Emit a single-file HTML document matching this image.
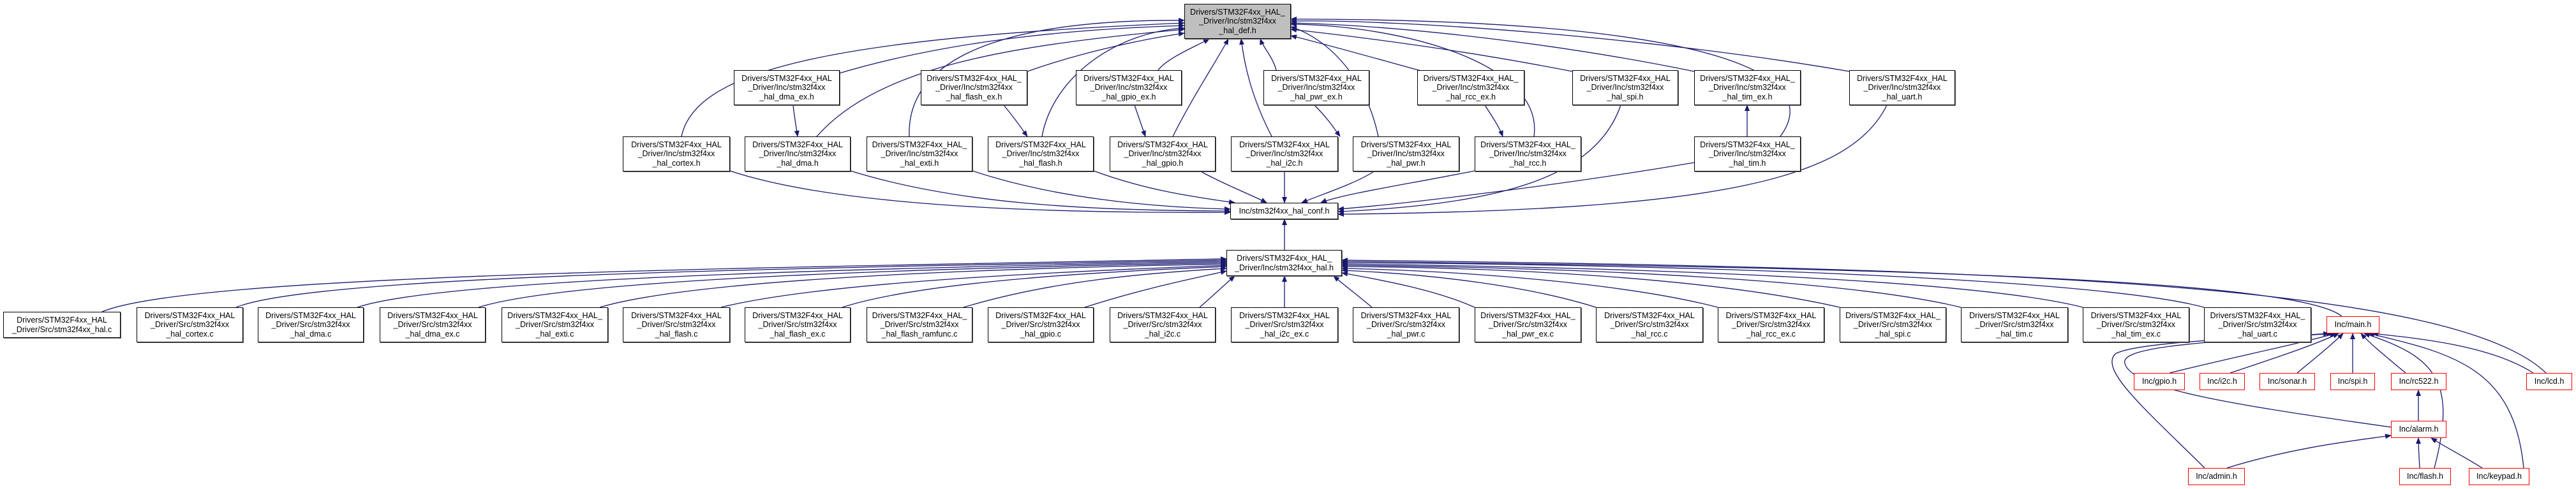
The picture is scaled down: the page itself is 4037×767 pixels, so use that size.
<!DOCTYPE html>
<html><head><meta charset="utf-8"><style>
body{margin:0;width:4037px;height:767px;background:#fff;position:relative;overflow:hidden;font-family:"Liberation Sans",sans-serif}
.n{position:absolute;box-sizing:border-box;border:1px solid #000;box-shadow:1px 1px 0 #666;background:#fff;font-size:12.5px;line-height:14.5px;text-align:center;display:flex;flex-direction:column;justify-content:center;white-space:nowrap;color:#000}
.r{border-color:#f00;box-shadow:none}
.g{background:#bfbfbf}
svg{position:absolute;left:0;top:0}
</style></head><body>
<svg id="s" width="4037" height="767"><defs><marker id="a" markerWidth="10" markerHeight="10" refX="9" refY="5" orient="auto" markerUnits="userSpaceOnUse"><path d="M0,1 L10,5 L0,9 z" fill="#191970"/></marker></defs></svg>

<div class="n g" style="left:1856px;top:6px;width:167px;height:55px">Drivers/STM32F4xx_HAL_<br>_Driver/Inc/stm32f4xx<br>_hal_def.h</div>

<div class="n" style="left:1150px;top:110px;width:166px;height:55px">Drivers/STM32F4xx_HAL<br>_Driver/Inc/stm32f4xx<br>_hal_dma_ex.h</div>
<div class="n" style="left:1443px;top:110px;width:167px;height:55px">Drivers/STM32F4xx_HAL_<br>_Driver/Inc/stm32f4xx<br>_hal_flash_ex.h</div>
<div class="n" style="left:1686px;top:110px;width:166px;height:55px">Drivers/STM32F4xx_HAL<br>_Driver/Inc/stm32f4xx<br>_hal_gpio_ex.h</div>
<div class="n" style="left:1980px;top:110px;width:166px;height:55px">Drivers/STM32F4xx_HAL<br>_Driver/Inc/stm32f4xx<br>_hal_pwr_ex.h</div>
<div class="n" style="left:2221px;top:110px;width:168px;height:55px">Drivers/STM32F4xx_HAL_<br>_Driver/Inc/stm32f4xx<br>_hal_rcc_ex.h</div>
<div class="n" style="left:2464px;top:110px;width:166px;height:55px">Drivers/STM32F4xx_HAL<br>_Driver/Inc/stm32f4xx<br>_hal_spi.h</div>
<div class="n" style="left:2655px;top:110px;width:167px;height:55px">Drivers/STM32F4xx_HAL_<br>_Driver/Inc/stm32f4xx<br>_hal_tim_ex.h</div>
<div class="n" style="left:2898px;top:110px;width:166px;height:55px">Drivers/STM32F4xx_HAL<br>_Driver/Inc/stm32f4xx<br>_hal_uart.h</div>

<div class="n" style="left:976px;top:214px;width:168px;height:55px">Drivers/STM32F4xx_HAL<br>_Driver/Inc/stm32f4xx<br>_hal_cortex.h</div>
<div class="n" style="left:1167px;top:214px;width:166px;height:55px">Drivers/STM32F4xx_HAL<br>_Driver/Inc/stm32f4xx<br>_hal_dma.h</div>
<div class="n" style="left:1358px;top:214px;width:166px;height:55px">Drivers/STM32F4xx_HAL_<br>_Driver/Inc/stm32f4xx<br>_hal_exti.h</div>
<div class="n" style="left:1548px;top:214px;width:166px;height:55px">Drivers/STM32F4xx_HAL<br>_Driver/Inc/stm32f4xx<br>_hal_flash.h</div>
<div class="n" style="left:1739px;top:214px;width:166px;height:55px">Drivers/STM32F4xx_HAL<br>_Driver/Inc/stm32f4xx<br>_hal_gpio.h</div>
<div class="n" style="left:1929px;top:214px;width:168px;height:55px">Drivers/STM32F4xx_HAL<br>_Driver/Inc/stm32f4xx<br>_hal_i2c.h</div>
<div class="n" style="left:2120px;top:214px;width:167px;height:55px">Drivers/STM32F4xx_HAL<br>_Driver/Inc/stm32f4xx<br>_hal_pwr.h</div>
<div class="n" style="left:2311px;top:214px;width:167px;height:55px">Drivers/STM32F4xx_HAL_<br>_Driver/Inc/stm32f4xx<br>_hal_rcc.h</div>
<div class="n" style="left:2655px;top:214px;width:167px;height:55px">Drivers/STM32F4xx_HAL_<br>_Driver/Inc/stm32f4xx<br>_hal_tim.h</div>

<div class="n" style="left:1928px;top:318px;width:169px;height:26px">Inc/stm32f4xx_hal_conf.h</div>
<div class="n" style="left:1922px;top:392px;width:181px;height:41px">Drivers/STM32F4xx_HAL_<br>_Driver/Inc/stm32f4xx_hal.h</div>

<div class="n" style="left:5px;top:489px;width:184px;height:41px">Drivers/STM32F4xx_HAL<br>_Driver/Src/stm32f4xx_hal.c</div>
<div class="n" style="left:214px;top:482px;width:167px;height:55px">Drivers/STM32F4xx_HAL<br>_Driver/Src/stm32f4xx<br>_hal_cortex.c</div>
<div class="n" style="left:404px;top:482px;width:166px;height:55px">Drivers/STM32F4xx_HAL<br>_Driver/Src/stm32f4xx<br>_hal_dma.c</div>
<div class="n" style="left:595px;top:482px;width:166px;height:55px">Drivers/STM32F4xx_HAL<br>_Driver/Src/stm32f4xx<br>_hal_dma_ex.c</div>
<div class="n" style="left:786px;top:482px;width:167px;height:55px">Drivers/STM32F4xx_HAL_<br>_Driver/Src/stm32f4xx<br>_hal_exti.c</div>
<div class="n" style="left:976px;top:482px;width:168px;height:55px">Drivers/STM32F4xx_HAL<br>_Driver/Src/stm32f4xx<br>_hal_flash.c</div>
<div class="n" style="left:1167px;top:482px;width:166px;height:55px">Drivers/STM32F4xx_HAL<br>_Driver/Src/stm32f4xx<br>_hal_flash_ex.c</div>
<div class="n" style="left:1358px;top:482px;width:166px;height:55px">Drivers/STM32F4xx_HAL_<br>_Driver/Src/stm32f4xx<br>_hal_flash_ramfunc.c</div>
<div class="n" style="left:1548px;top:482px;width:166px;height:55px">Drivers/STM32F4xx_HAL<br>_Driver/Src/stm32f4xx<br>_hal_gpio.c</div>
<div class="n" style="left:1739px;top:482px;width:166px;height:55px">Drivers/STM32F4xx_HAL<br>_Driver/Src/stm32f4xx<br>_hal_i2c.c</div>
<div class="n" style="left:1929px;top:482px;width:168px;height:55px">Drivers/STM32F4xx_HAL<br>_Driver/Src/stm32f4xx<br>_hal_i2c_ex.c</div>
<div class="n" style="left:2120px;top:482px;width:167px;height:55px">Drivers/STM32F4xx_HAL<br>_Driver/Src/stm32f4xx<br>_hal_pwr.c</div>
<div class="n" style="left:2311px;top:482px;width:167px;height:55px">Drivers/STM32F4xx_HAL_<br>_Driver/Src/stm32f4xx<br>_hal_pwr_ex.c</div>
<div class="n" style="left:2501px;top:482px;width:168px;height:55px">Drivers/STM32F4xx_HAL<br>_Driver/Src/stm32f4xx<br>_hal_rcc.c</div>
<div class="n" style="left:2692px;top:482px;width:167px;height:55px">Drivers/STM32F4xx_HAL<br>_Driver/Src/stm32f4xx<br>_hal_rcc_ex.c</div>
<div class="n" style="left:2883px;top:482px;width:167px;height:55px">Drivers/STM32F4xx_HAL_<br>_Driver/Src/stm32f4xx<br>_hal_spi.c</div>
<div class="n" style="left:3073px;top:482px;width:168px;height:55px">Drivers/STM32F4xx_HAL<br>_Driver/Src/stm32f4xx<br>_hal_tim.c</div>
<div class="n" style="left:3264px;top:482px;width:167px;height:55px">Drivers/STM32F4xx_HAL<br>_Driver/Src/stm32f4xx<br>_hal_tim_ex.c</div>
<div class="n" style="left:3454px;top:482px;width:168px;height:55px">Drivers/STM32F4xx_HAL_<br>_Driver/Src/stm32f4xx<br>_hal_uart.c</div>

<div class="n r" style="left:3646px;top:496px;width:83px;height:27px">Inc/main.h</div>
<div class="n r" style="left:3344px;top:585px;width:80px;height:27px">Inc/gpio.h</div>
<div class="n r" style="left:3447px;top:585px;width:71px;height:27px">Inc/i2c.h</div>
<div class="n r" style="left:3541px;top:585px;width:87px;height:27px">Inc/sonar.h</div>
<div class="n r" style="left:3652px;top:585px;width:70px;height:27px">Inc/spi.h</div>
<div class="n r" style="left:3747px;top:585px;width:87px;height:27px">Inc/rc522.h</div>
<div class="n r" style="left:3959px;top:585px;width:72px;height:27px">Inc/lcd.h</div>
<div class="n r" style="left:3747px;top:660px;width:87px;height:27px">Inc/alarm.h</div>
<div class="n r" style="left:3429px;top:734px;width:89px;height:27px">Inc/admin.h</div>
<div class="n r" style="left:3760px;top:734px;width:81px;height:27px">Inc/flash.h</div>
<div class="n r" style="left:3869px;top:734px;width:95px;height:27px">Inc/keypad.h</div>

<script>
var E=[
[1068,214,1090,110,1300,60,1856,36],[1315,115,1500,60,1700,45,1856,40],[1280,214,1380,100,1600,70,1856,46],
[1425,214,1420,80,1600,30,1856,32],[1610,112,1700,80,1800,60,1856,52],[1633,214,1650,120,1750,50,1856,44],
[1815,110,1830,90,1880,70,1895,61],[1838,214,1870,150,1910,90,1925,61],[1993,214,1960,150,1950,100,1945,61],
[2000,110,1995,90,1980,75,1975,61],[2160,214,2140,120,2080,60,2023,42],[2230,112,2150,90,2080,70,2023,56],
[2404,214,2420,100,2200,40,2023,38],[2464,112,2300,80,2150,60,2023,46],[2655,112,2450,70,2200,40,2023,36],
[2790,214,2860,120,2700,30,2023,30],[2898,112,2600,60,2200,30,2023,33],
[1243,165,1245,185,1248,200,1250,214],[1573,165,1590,185,1600,200,1610,214],[1778,165,1785,185,1790,200,1795,214],
[2060,165,2080,185,2090,200,2100,214],[2327,165,2340,185,2350,200,2355,214],[2738,214,2738,195,2738,180,2738,165],
[1144,268,1300,320,1600,335,1928,333],[1333,268,1500,320,1700,330,1928,331],[1524,268,1650,310,1800,325,1928,328],
[1714,268,1800,300,1880,310,1935,318],[1880,268,1920,290,1960,305,1985,318],[2013,268,2013,290,2013,300,2013,318],
[2155,268,2120,290,2070,305,2040,318],[2311,268,2200,290,2100,305,2070,318],[2655,255,2450,290,2200,320,2097,328],
[2540,165,2500,280,2350,320,2097,332],[2957,165,2900,280,2700,330,2097,336],
[2013,392,2013,375,2013,360,2013,344],
[160,489,300,430,1200,420,1922,406],[370,482,500,430,1300,420,1922,408],[560,482,700,435,1400,420,1922,410],
[750,482,900,435,1500,420,1922,412],[940,482,1100,435,1600,420,1922,414],[1130,482,1300,440,1700,425,1922,416],
[1320,482,1450,440,1750,425,1922,418],[1510,482,1650,440,1800,428,1922,421],[1700,482,1800,450,1880,435,1922,425],
[1880,482,1900,465,1915,450,1935,433],[2013,482,2013,465,2013,450,2013,433],[2150,482,2130,465,2110,450,2090,433],
[2311,482,2250,455,2170,440,2103,428],[2501,482,2400,450,2250,430,2103,424],[2692,482,2550,445,2300,425,2103,421],
[2883,482,2700,440,2400,420,2103,418],[3073,482,2900,440,2500,420,2103,416],[3264,482,3100,440,2600,420,2103,414],
[3454,482,3300,440,2700,415,2103,412],[3670,496,3600,440,3000,420,2103,410],[3990,585,3850,450,3200,420,2103,408],
[3400,585,3500,560,3600,540,3660,523],[3495,585,3570,560,3630,540,3665,523],[3600,585,3630,560,3655,540,3672,523],
[3687,585,3687,565,3687,545,3687,523],[3770,585,3740,560,3715,540,3700,523],[3970,585,3900,540,3780,530,3718,523],
[3747,670,3500,635,3340,610,3330,570],[3330,570,3320,540,3500,535,3655,523],
[3455,734,3360,640,3290,580,3315,555],[3315,555,3350,535,3550,530,3650,523],
[3815,734,3850,600,3820,560,3705,523],[3955,734,3940,580,3850,555,3712,523],
[3790,660,3790,645,3790,625,3790,612],[3490,734,3600,700,3700,690,3747,683],[3792,734,3791,715,3790,700,3790,687],
[3890,734,3860,715,3830,700,3810,687]
];
var s=document.getElementById('s'),ns='http://www.w3.org/2000/svg';
var noArrow={};noArrow[E.length-16+6]=1;noArrow[E.length-16+8]=1;
E.forEach(function(e,i){var p=document.createElementNS(ns,'path');
p.setAttribute('d','M'+e[0]+','+e[1]+' C'+e[2]+','+e[3]+' '+e[4]+','+e[5]+' '+e[6]+','+e[7]);
p.setAttribute('fill','none');p.setAttribute('stroke','#191970');p.setAttribute('stroke-width','1.3');
if(!noArrow[i])p.setAttribute('marker-end','url(#a)');s.appendChild(p);});
</script>
</body></html>
